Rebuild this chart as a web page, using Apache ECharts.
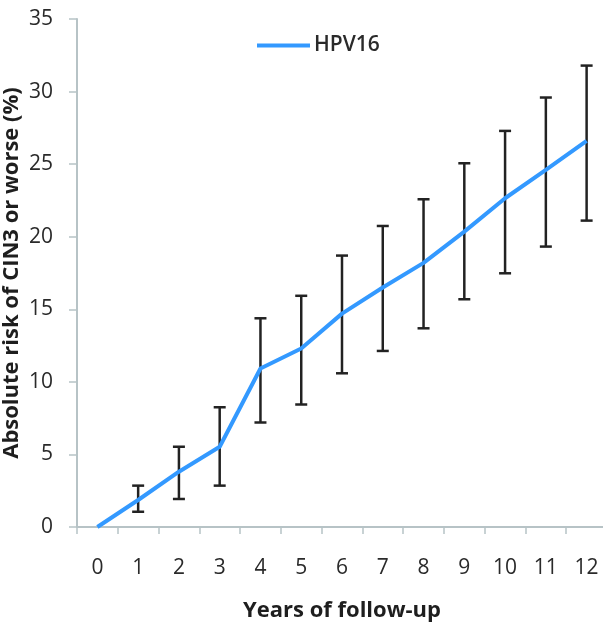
<!DOCTYPE html>
<html>
<head>
<meta charset="utf-8">
<script src="https://cdn.jsdelivr.net/npm/echarts@6/dist/echarts.min.js"></script>
<style>
html,body{margin:0;padding:0;background:#fff;}
#chart{width:603px;height:627px;}
</style>
</head>
<body>
<div id="chart"></div>
<script>
var years = ['0','1','2','3','4','5','6','7','8','9','10','11','12'];
var risk  = [0, 1.86, 3.81, 5.53, 10.92, 12.3, 14.7, 16.5, 18.2, 20.35, 22.65, 24.6, 26.6];
var lower = [null, 1.05, 1.93, 2.85, 7.2, 8.44, 10.59, 12.13, 13.69, 15.69, 17.48, 19.32, 21.11];
var upper = [null, 2.85, 5.53, 8.25, 14.38, 15.93, 18.7, 20.74, 22.58, 25.06, 27.29, 29.59, 31.79];

var errData = [];
for (var i = 0; i < years.length; i++) {
  if (lower[i] != null) errData.push([i, lower[i], upper[i]]);
}

var chart = echarts.init(document.getElementById('chart'));
var font = '"Open Sans", "Noto Sans", sans-serif';
chart.setOption({
  animation: false,
  textStyle: { fontFamily: font },
  grid: { left: 77, width: 530, top: 19, bottom: 100, containLabel: false, outerBoundsMode: 'none' },
  legend: {
    data: ['HPV16'],
    left: 252, top: 30,
    icon: 'rect',
    itemWidth: 53, itemHeight: 4, itemGap: 5,
    textStyle: { fontSize: 21, color: '#2a2a2a', fontFamily: font, fontWeight: 600, padding: [0, 0, 0, -1] }
  },
  xAxis: {
    type: 'category',
    data: years,
    boundaryGap: true,
    name: 'Years of follow-up',
    nameLocation: 'middle',
    nameGap: 73,
    nameMoveOverlap: false,
    nameTextStyle: { fontSize: 22, fontWeight: 'bold', color: '#1e1e1e', fontFamily: font },
    axisLine: { lineStyle: { color: '#b7c3c6', width: 2 } },
    axisTick: { show: true, length: 7, lineStyle: { color: '#b7c3c6', width: 1.5 } },
    axisLabel: { fontSize: 21, color: '#2a2a2a', margin: 31, fontFamily: font },
    splitLine: { show: false }
  },
  yAxis: {
    type: 'value',
    min: 0, max: 35, interval: 5,
    name: 'Absolute risk of CIN3 or worse (%)',
    nameLocation: 'middle',
    nameRotate: 90,
    nameGap: 54,
    nameMoveOverlap: false,
    nameTextStyle: { fontSize: 22, fontWeight: 'bold', color: '#1e1e1e', fontFamily: font },
    axisLine: { show: true, lineStyle: { color: '#b7c3c6', width: 2 } },
    axisTick: { show: true, length: 8, lineStyle: { color: '#b7c3c6', width: 1.5 } },
    axisLabel: { fontSize: 21, color: '#2a2a2a', margin: 24, fontFamily: font },
    splitLine: { show: false }
  },
  series: [
    {
      name: 'HPV16',
      type: 'line',
      data: risk,
      symbol: 'none',
      lineStyle: { color: '#3399ff', width: 4 },
      itemStyle: { color: '#3399ff' },
      z: 3
    },
    {
      name: 'err',
      type: 'custom',
      data: errData,
      z: 2,
      renderItem: function (params, api) {
        var x = api.value(0);
        var lo = api.coord([x, api.value(1)]);
        var hi = api.coord([x, api.value(2)]);
        var hw = 6;
        var st = { stroke: '#222', lineWidth: 2.5 };
        return {
          type: 'group',
          children: [
            { type: 'line', shape: { x1: hi[0], y1: hi[1], x2: lo[0], y2: lo[1] }, style: st },
            { type: 'line', shape: { x1: hi[0] - hw, y1: hi[1], x2: hi[0] + hw, y2: hi[1] }, style: st },
            { type: 'line', shape: { x1: lo[0] - hw, y1: lo[1], x2: lo[0] + hw, y2: lo[1] }, style: st }
          ]
        };
      }
    }
  ]
});
</script>
</body>
</html>
